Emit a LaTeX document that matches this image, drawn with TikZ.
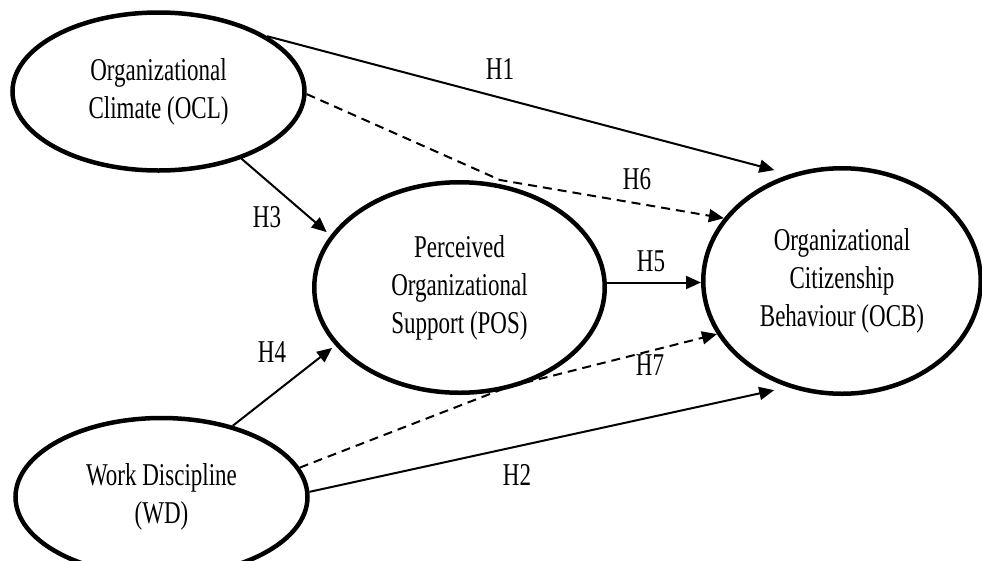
\documentclass[tikz,border=0pt]{standalone}
\usepackage{fontspec}
\setmainfont{Liberation Serif}
\usetikzlibrary{shapes.geometric,arrows.meta}
\newcommand{\vstretch}[1]{\scalebox{1}[1.38]{\begin{tabular}{@{}c@{}}#1\end{tabular}}}
\tikzset{
  construct/.style={ellipse,draw,line width=4.5pt,inner sep=0pt,
    font=\fontsize{23}{27.5}\selectfont},
  hlabel/.style={inner sep=0pt,font=\fontsize{23}{27.5}\selectfont},
  path/.style={line width=2pt,-{Triangle[length=15pt,width=13pt]}},
  medpath/.style={path,dash pattern=on 9pt off 6pt},
}
\begin{document}
\begin{tikzpicture}[x=1pt,y=-1pt]
\useasboundingbox (0,0) rectangle (982,560);
% constructs
\node[construct,minimum width=292pt,minimum height=158pt] (ocl) at (158.5,91.5)
  {\vstretch{Organizational\\Climate (OCL)}};
\node[construct,minimum width=292pt,minimum height=158pt] (wd) at (161.5,497)
  {\vstretch{Work Discipline\\(WD)}};
\node[construct,minimum width=290.5pt,minimum height=210.5pt] (pos) at (459.5,287.5)
  {\vstretch{Perceived\\Organizational\\Support (POS)}};
\node[construct,minimum width=277.5pt,minimum height=225.5pt] (ocb) at (842,281)
  {\vstretch{Organizational\\Citizenship\\Behaviour (OCB)}};
% bend points of the mediation paths
\coordinate (b6) at (500,180);
\coordinate (b7) at (508,387);
% direct paths
\draw[path,shorten >=16pt] (ocl.27) -- (ocb.116);
\draw[path,shorten >=14pt] (wd.2) -- (ocb.243);
\draw[path,shorten >=5pt] (ocl.-39) -- (pos.158);
\draw[path,shorten >=4pt] (wd.45) -- (pos.205);
\draw[path] ([yshift=5pt]pos.east) -- ([yshift=5pt]pos.east -| ocb.west);
% mediated paths
\draw[medpath] (ocl.-1) -- (b6) -- (ocb.152);
\draw[medpath] (wd.12) -- (b7) -- (ocb.203);
% labels
\node[hlabel] (h1) at (500,72) {\vstretch{H1}};
\node[hlabel] (h2) at (517,478) {\vstretch{H2}};
\node[hlabel] (h3) at (267,220) {\vstretch{H3}};
\node[hlabel] (h4) at (272,355) {\vstretch{H4}};
\node[hlabel] (h5) at (651,264) {\vstretch{H5}};
\node[hlabel] (h6) at (637,182) {\vstretch{H6}};
\node[hlabel] (h7) at (650,368) {\vstretch{H7}};
\end{tikzpicture}
\end{document}
